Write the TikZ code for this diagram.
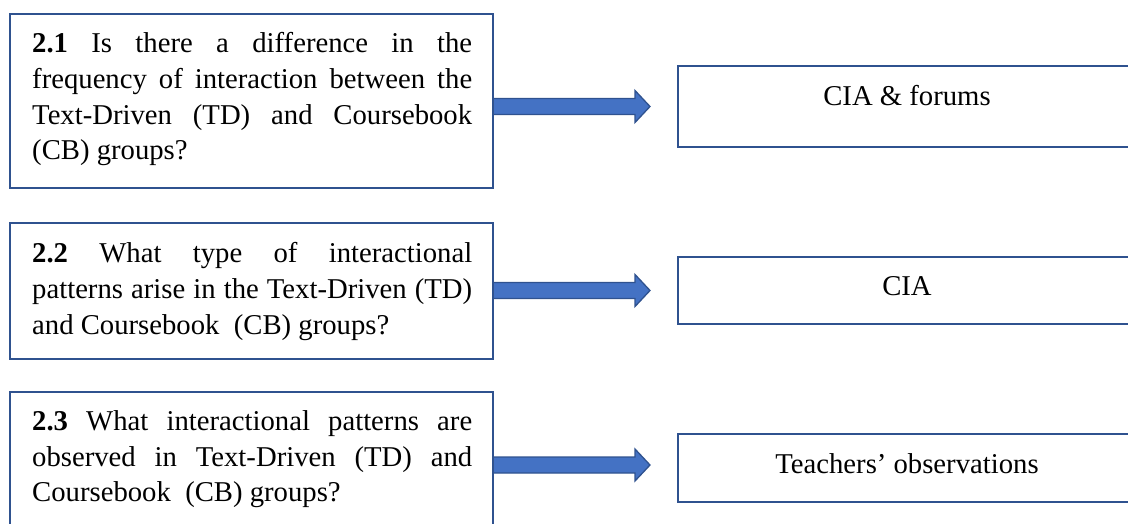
\documentclass[tikz,border=0pt]{standalone}
\usepackage{fontspec}
\setmainfont{Liberation Serif}
\usetikzlibrary{calc}
\definecolor{boxline}{HTML}{2F528F}
\definecolor{arrowfill}{HTML}{4472C4}
\hyphenpenalty=10000
\exhyphenpenalty=10000
\tolerance=10000
\tikzset{
  qbox/.style={draw=boxline, line width=2pt, fill=white, rectangle,
    inner sep=0pt, outer sep=0pt, anchor=north west},
  qtext/.style={anchor=north west, inner sep=0pt, text width=440pt,
    align=justify, font=\fontsize{28.7}{35.8}\selectfont},
  atext/.style={anchor=base, inner sep=0pt, font=\fontsize{28.7}{35.8}\selectfont},
  barrow/.style={fill=arrowfill, draw=boxline, line width=1.3pt, line join=miter},
}
% strut fixing the height of a first line
\newcommand\firstline{\rule{0pt}{20pt}}
% block arrow from #1 to the tip #2 (both on one horizontal line)
\newcommand\blockarrow[2]{%
  \draw[barrow] ($(#1)+(0,-8)$) -- ($(#2)+(-15,-8)$) -- ($(#2)+(-15,-16)$)
    -- (#2) -- ($(#2)+(-15,16)$) -- ($(#2)+(-15,8)$) -- ($(#1)+(0,8)$) -- cycle;}
\begin{document}
\begin{tikzpicture}[x=1pt, y=-1pt]
\clip (0,0) rectangle (1128,523);

% question boxes
\node[qbox, minimum width=483pt, minimum height=174pt] (q1) at (10,14) {};
\node[qbox, minimum width=483pt, minimum height=136pt] (q2) at (10,223) {};
\node[qbox, minimum width=483pt, minimum height=160pt] (q3) at (10,392) {};

% data source boxes
\node[qbox, minimum width=458pt, minimum height=81pt] (r1) at (678,66) {};
\node[qbox, minimum width=458pt, minimum height=67pt] (r2) at (678,257) {};
\node[qbox, minimum width=458pt, minimum height=68pt] (r3) at (678,434) {};

% arrows between the boxes
\coordinate (s1) at (q1.east |- r1.west);
\coordinate (s2) at (q2.east |- r2.west);
\coordinate (s3) at ([yshift=3pt]q3.east |- r3.west);
\coordinate (u1) at ([xshift=-28pt]r1.west);
\coordinate (u2) at ([xshift=-28pt]r2.west);
\coordinate (u3) at ([xshift=-28pt]r3.west);
\coordinate (e1) at (u1 |- s1);
\coordinate (e2) at (u2 |- s2);
\coordinate (e3) at (u3 |- s3);
\blockarrow{s1}{e1}
\blockarrow{s2}{e2}
\blockarrow{s3}{e3}
% redraw the left borders over the arrow ends
\draw[boxline, line width=2pt] (q1.north east) -- (q1.south east);
\draw[boxline, line width=2pt] (q2.north east) -- (q2.south east);
\draw[boxline, line width=2pt] (q3.north east) -- (q3.south east);

% question texts
\node[qtext] (q1t) at (32,32) {\firstline\textbf{2.1} Is there a difference in the\linebreak
  frequency of interaction between the\linebreak
  Text-Driven (TD) and Coursebook\linebreak
  (CB) groups?};
\node[qtext] (q2t) at (32,242) {\firstline\textbf{2.2} What type of interactional\linebreak
  patterns arise in the Text-Driven (TD)\linebreak
  and Coursebook\ \ (CB) groups?};
\node[qtext] (q3t) at (32,410) {\firstline\textbf{2.3} What interactional patterns are\linebreak
  observed in Text-Driven (TD) and\linebreak
  Coursebook\ \ (CB) groups?};

% data source texts
\node[atext] (t1) at (907,105) {CIA \& forums};
\node[atext] (t2) at (907,295) {CIA};
\node[atext] (t3) at (907,473) {Teachers’ observations};
\end{tikzpicture}
\end{document}
